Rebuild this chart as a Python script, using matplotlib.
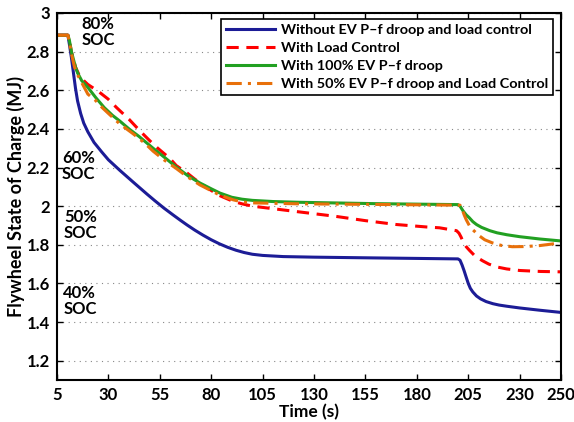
import matplotlib
matplotlib.use('Agg')
import matplotlib.pyplot as plt

# Data (time in s, flywheel SOC in MJ)
t_blue = [5, 10.3, 11, 12, 13, 14, 15, 16.5, 18, 20, 23, 26.8, 30, 35.6, 42, 48.7, 52.6, 57, 61.4, 65, 68.2,
          72, 76, 80, 84, 88, 92, 96, 100, 105, 115, 130, 160, 200,
          201, 202, 203, 204, 205, 206, 207.2, 209, 211, 213.7, 217, 220, 223.7, 230, 240, 250]
v_blue = [2.885, 2.885, 2.84, 2.77, 2.69, 2.61, 2.545, 2.48, 2.43, 2.385, 2.33, 2.28, 2.24, 2.185, 2.125, 2.063, 2.028, 1.99, 1.955, 1.927, 1.903,
          1.876, 1.85, 1.826, 1.805, 1.787, 1.772, 1.76, 1.751, 1.745, 1.739, 1.736, 1.732, 1.727,
          1.72, 1.695, 1.665, 1.632, 1.60, 1.575, 1.556, 1.535, 1.52, 1.506, 1.495, 1.488, 1.482, 1.473, 1.461, 1.45]

t_red = [5, 10.3, 11, 12, 13, 14, 15.5, 17.5, 20, 25, 29.8, 34, 40, 45.3, 50, 54, 59.9, 63, 68, 72, 77.8, 84,
         90.6, 95, 100, 110, 123, 140, 155, 170, 185, 191, 199.3,
         200.5, 201.5, 202.3, 204, 205.7, 208, 210, 212, 215, 219, 223.7, 230, 240, 250]
v_red = [2.885, 2.885, 2.86, 2.8, 2.76, 2.72, 2.685, 2.655, 2.63, 2.595, 2.555, 2.51, 2.45, 2.39, 2.34, 2.30, 2.247, 2.21, 2.174, 2.14, 2.096, 2.055,
         2.025, 2.012, 2.0, 1.987, 1.97, 1.948, 1.925, 1.905, 1.892, 1.888, 1.873,
         1.86, 1.84, 1.82, 1.79, 1.77, 1.745, 1.73, 1.717, 1.70, 1.685, 1.675, 1.667, 1.662, 1.66]

t_green = [5, 10.3, 11, 12, 13, 14, 15, 17, 20, 24, 28, 32, 35.6, 40, 45, 51.7, 57, 63.3, 69, 74.5, 80, 84.2,
           90, 95, 100, 110, 123, 160, 200,
           201, 202.5, 204, 205.5, 207.2, 209, 211.5, 215.5, 219, 223.8, 230, 239.8, 250]
v_green = [2.885, 2.885, 2.86, 2.8, 2.76, 2.72, 2.69, 2.65, 2.615, 2.56, 2.51, 2.47, 2.44, 2.40, 2.36, 2.30, 2.255, 2.2, 2.155, 2.12, 2.09, 2.068,
           2.046, 2.036, 2.03, 2.024, 2.02, 2.013, 2.008,
           2.0, 1.975, 1.955, 1.94, 1.92, 1.905, 1.89, 1.873, 1.862, 1.852, 1.842, 1.83, 1.82]

t_orange = [5, 10.3, 11, 12, 13.5, 15, 17, 20, 23.5, 27, 30, 35.6, 42, 47.8, 51.7, 57, 63, 68, 74.5, 80, 84,
            90.6, 95, 100, 123, 160, 201,
            202, 203, 204, 205.5, 207, 210.3, 213, 216.7, 221, 226.4, 233, 239.8, 245, 250]
v_orange = [2.885, 2.885, 2.85, 2.79, 2.72, 2.68, 2.64, 2.58, 2.55, 2.51, 2.48, 2.425, 2.375, 2.325, 2.285, 2.24, 2.195, 2.155, 2.11, 2.08, 2.058,
            2.033, 2.022, 2.017, 2.012, 2.009, 2.005,
            1.985, 1.955, 1.93, 1.90, 1.88, 1.847, 1.826, 1.81, 1.797, 1.79, 1.791, 1.796, 1.803, 1.81]

labels = ['Without EV P\u2013f droop and load control', 'With Load Control',
          'With 100% EV P\u2013f droop', 'With 50% EV P\u2013f droop and Load Control']

x_ticks = [5, 30, 55, 80, 105, 130, 155, 180, 205, 230, 250]
y_ticks = [1.2, 1.4, 1.6, 1.8, 2, 2.2, 2.4, 2.6, 2.8, 3]
y_ticklabels = ['1.2', '1.4', '1.6', '1.8', '2', '2.2', '2.4', '2.6', '2.8', '3']

soc_labels = ['80%\nSOC', '60%\nSOC', '50%\nSOC', '40%\nSOC']
soc_pos = [(17, 2.90), (7.4, 2.21), (8.4, 1.904), (8, 1.509)]

plt.rcParams['font.family'] = ['Lato', 'DejaVu Sans']
plt.rcParams['font.weight'] = 'bold'

fig = plt.figure(figsize=(5.74, 4.22), dpi=100)
ax = fig.add_axes([0.0993, 0.0995, 0.8777, 0.8697])

ax.plot(t_blue, v_blue, color='#1c1c96', lw=2.2, label=labels[0])
ax.plot(t_red, v_red, color='#ff0000', lw=2.2, ls=(0, (4, 2.5)), label=labels[1])
ax.plot(t_green, v_green, color='#22a022', lw=2.2, label=labels[2])
ax.plot(t_orange, v_orange, color='#e8700a', lw=2.2, ls=(0, (5, 2, 1, 2)), label=labels[3])

for txt, (x, y) in zip(soc_labels, soc_pos):
    ax.text(x, y, txt, fontsize=12, fontweight='bold', ha='left', va='center', linespacing=1.0)

ax.set_xlim(5, 250)
ax.set_ylim(1.1, 3)
ax.set_xticks(x_ticks)
ax.set_yticks(y_ticks)
ax.set_yticklabels(y_ticklabels)
ax.tick_params(direction='in', top=True, right=True, labelsize=12, width=1, length=4, pad=5)
ax.yaxis.grid(True, ls=(0, (1, 4)), color='#888888', lw=0.8)
for s in ax.spines.values():
    s.set_linewidth(1.5)

ax.set_xlabel('Time (s)', fontsize=12.5, fontweight='bold', labelpad=1)
ax.set_ylabel('Flywheel State of Charge (MJ)', fontsize=13, fontweight='bold', labelpad=1)

leg = ax.legend(loc='upper right', bbox_to_anchor=(0.985, 0.985), fontsize=10.4,
                fancybox=False, framealpha=1, edgecolor='black', borderpad=0.35,
                labelspacing=0.42, handlelength=3.4, handletextpad=0.4, borderaxespad=0)
leg.get_frame().set_linewidth(1.2)
for txt in leg.get_texts():
    txt.set_fontweight('bold')

fig.savefig('out.png', dpi=100)
